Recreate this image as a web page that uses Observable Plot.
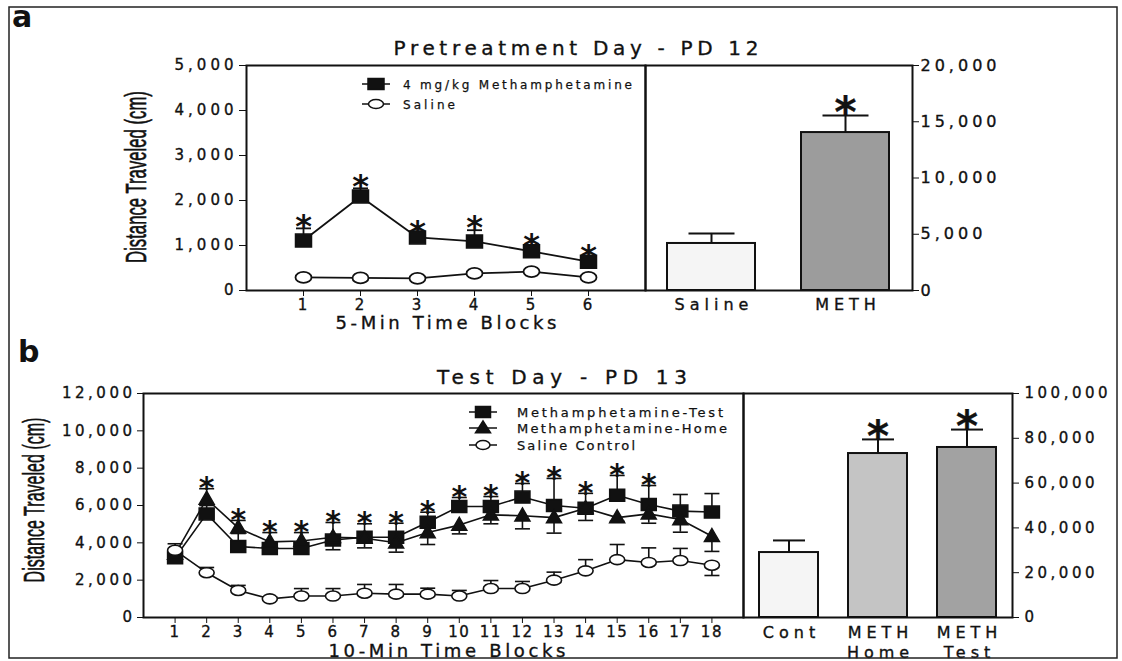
<!DOCTYPE html>
<html>
<head>
<meta charset="utf-8">
<script src="https://cdn.jsdelivr.net/npm/d3@7"></script>
<script src="https://cdn.jsdelivr.net/npm/@observablehq/plot@0.6"></script>
<style>
  body { margin: 0; background: #fff; }
  #fig { position: relative; width: 1122px; height: 661px; overflow: hidden; background: #fff; }
  #fig > div.p { position: absolute; }
  #fig svg { overflow: visible; }
  #fig text { font-family: "DejaVu Sans", sans-serif; }
  #fig g[aria-label^="y-axis"] text, #fig g[aria-label^="x-axis"] text { stroke: #111; stroke-width: 0.35px; }
  #aline g[aria-label^="y-axis"] text, #abar g[aria-label^="y-axis"] text { letter-spacing: 4px; }
  #bline g[aria-label^="y-axis"] text, #bbar g[aria-label^="y-axis"] text { letter-spacing: 3.5px; }
  #aline g[aria-label^="x-axis"] text { letter-spacing: 2px; }
  #bline g[aria-label^="x-axis"] text { letter-spacing: 1.5px; }
  #abar g[aria-label="text"] text, #bbar g[aria-label="text"] text { letter-spacing: 5px; stroke: #111; stroke-width: 0.35px; }
  #overlay { position: absolute; left: 0; top: 0; pointer-events: none; }
</style>
</head>
<body>
<div id="fig"></div>
<script>
// ---------------- DATA ----------------
// Panel a: Pretreatment Day - PD 12 (5-min blocks)
const blocksA = [1, 2, 3, 4, 5, 6];
const methA = [1110, 2090, 1180, 1090, 870, 640];
const methAErrTop = [1380, 2270, 1250, 1340, 950, 700];
const salineA = [290, 280, 270, 380, 420, 290];
const salineAErrTop = [330, 320, 310, 420, 460, 330];
const sigA = [true, true, true, true, true, true];
const yTicksA = [0, 1000, 2000, 3000, 4000, 5000];

const barCatsA = ["Saline", "METH"];
const barValsA = [4180, 14040];
const barErrTopA = [5070, 15560];
const barSigA = [false, true];
const yTicksBarA = [0, 5000, 10000, 15000, 20000];

// Panel b: Test Day - PD 13 (10-min blocks)
const blocksB = [1, 2, 3, 4, 5, 6, 7, 8, 9, 10, 11, 12, 13, 14, 15, 16, 17, 18];
const testB = [3200, 5550, 3800, 3700, 3700, 4150, 4300, 4300, 5100, 5950, 5950, 6450, 6000, 5850, 6550, 6050, 5700, 5650];
const testBErrTop = [3500, 6900, 5200, 4550, 4550, 5090, 5020, 5050, 5640, 6430, 6480, 7180, 7450, 6650, 7610, 7070, 6590, 6640];
const homeB = [3400, 6350, 4800, 4050, 4100, 4300, 4250, 4000, 4550, 4950, 5500, 5450, 5350, 5850, 5350, 5550, 5250, 4350];
const homeBErrBottom = [3100, 6000, 4500, 3700, 3750, 3630, 3730, 3500, 3910, 4480, 5020, 4750, 4520, 5200, 5150, 5050, 4570, 3540];
const salineB = [3600, 2400, 1450, 1000, 1150, 1150, 1300, 1250, 1250, 1150, 1550, 1550, 2000, 2500, 3100, 2950, 3050, 2800];
const salineBErrEnd = [3950, 2680, 1720, 1100, 1550, 1550, 1770, 1770, 1570, 1450, 1980, 1930, 2430, 3100, 3910, 3730, 3700, 2250];
const sigB = [false, true, true, true, true, true, true, true, true, true, true, true, true, true, true, true, false, false];
const yTicksB = [0, 2000, 4000, 6000, 8000, 10000, 12000];

const barCatsB = ["Cont", "METH Home", "METH Test"];
const barLabelsB = ["Cont", "METH\nHome", "METH\nTest"];
const barValsB = [29000, 73200, 75900];
const barErrTopB = [34400, 79500, 83900];
const barSigB = [false, true, true];
const yTicksBarB = [0, 20000, 40000, 60000, 80000, 100000];

const fills = {"Saline": "#f5f5f5", "METH": "#9c9c9c", "Cont": "#f5f5f5", "METH Home": "#c4c4c4", "METH Test": "#a2a2a2"};

// ---------------- TABLES ----------------
const dataA = blocksA.map((b, i) => ({block: b, meth: methA[i], methTop: methAErrTop[i], sal: salineA[i], salTop: salineAErrTop[i], sig: sigA[i]}));
const barsA = barCatsA.map((c, i) => ({cat: c, label: c, v: barValsA[i], top: barErrTopA[i], sig: barSigA[i]}));
const dataB = blocksB.map((b, i) => ({block: b, test: testB[i], testTop: testBErrTop[i], home: homeB[i], homeBot: homeBErrBottom[i], sal: salineB[i], salEnd: salineBErrEnd[i], sig: sigB[i]}));
const barsB = barCatsB.map((c, i) => ({cat: c, label: barLabelsB[i], v: barValsB[i], top: barErrTopB[i], sig: barSigB[i]}));

// ---------------- SYMBOLS ----------------
const rectSym = (w, h) => ({draw(ctx) { ctx.moveTo(-w/2, -h/2); ctx.lineTo(w/2, -h/2); ctx.lineTo(w/2, h/2); ctx.lineTo(-w/2, h/2); ctx.closePath(); }});
const triSym = (w, h) => ({draw(ctx) { ctx.moveTo(0, -h*0.6); ctx.lineTo(w/2, h*0.4); ctx.lineTo(-w/2, h*0.4); ctx.closePath(); }});
const ellSym = (rx, ry) => ({draw(ctx) { const k = 0.5523;
  ctx.moveTo(rx, 0);
  ctx.bezierCurveTo(rx, ry*k, rx*k, ry, 0, ry);
  ctx.bezierCurveTo(-rx*k, ry, -rx, ry*k, -rx, 0);
  ctx.bezierCurveTo(-rx, -ry*k, -rx*k, -ry, 0, -ry);
  ctx.bezierCurveTo(rx*k, -ry, rx, -ry*k, rx, 0);
  ctx.closePath(); }});
const capSym = (w) => ({draw(ctx) { ctx.moveTo(-w/2, 0); ctx.lineTo(w/2, 0); }});

const INK = "#111";
const baseStyle = (fs) => ({fontFamily: "DejaVu Sans, sans-serif", fontSize: fs + "px", color: INK, background: "transparent", overflow: "visible"});
const fmt = d3.format(",");

const fig = document.getElementById("fig");
function place(id, left, top, node) {
  const d = document.createElement("div");
  d.className = "p"; d.id = id; d.style.left = left + "px"; d.style.top = top + "px";
  d.appendChild(node); fig.appendChild(d);
}

// ---------------- PANEL a : line ----------------
const aLine = Plot.plot({
  width: 645, height: 330, marginLeft: 246, marginRight: 0, marginTop: 65, marginBottom: 40,
  style: baseStyle(15),
  x: {domain: [0, 7], ticks: blocksA, tickFormat: d => String(d), label: null, tickSize: 6, tickPadding: 3},
  y: {domain: [0, 5000], ticks: yTicksA, tickFormat: fmt, label: null, tickSize: 7, tickPadding: 2},
  marks: [
    Plot.line(dataA, {x: "block", y: "sal", stroke: INK, strokeWidth: 1.8}),
    Plot.line(dataA, {x: "block", y: "meth", stroke: INK, strokeWidth: 1.8}),
    Plot.ruleX(dataA, {x: "block", y1: "meth", y2: "methTop", stroke: INK, strokeWidth: 1.8}),
    Plot.dot(dataA, {x: "block", y: "methTop", symbol: capSym(15), r: 5, fill: "none", stroke: INK, strokeWidth: 1.8}),
    Plot.ruleX(dataA, {x: "block", y1: "sal", y2: "salTop", stroke: INK, strokeWidth: 1.8}),
    Plot.dot(dataA, {x: "block", y: "meth", symbol: rectSym(16, 13), r: 5, fill: INK, stroke: INK}),
    Plot.dot(dataA, {x: "block", y: "sal", symbol: ellSym(8, 5.5), r: 5, fill: "#fff", stroke: INK, strokeWidth: 1.8}),
    Plot.text(dataA.filter(d => d.sig), {x: "block", y: "methTop", text: d => "*", fontSize: 32, fontWeight: "bold", dy: -2, fill: INK}),
    Plot.frame({stroke: INK, strokeWidth: 2})
  ]
});
place("aline", 0, 0, aLine);

// ---------------- PANEL a : bars ----------------
const aBar = Plot.plot({
  width: 477, height: 330, marginLeft: 0, marginRight: 210, marginTop: 65, marginBottom: 40,
  style: baseStyle(16),
  x: {type: "band", domain: barCatsA, paddingInner: 0.34, paddingOuter: 0.165, axis: null},
  y: {domain: [0, 20000], ticks: yTicksBarA, tickFormat: fmt, label: null, axis: "right", tickSize: 6, tickPadding: 2},
  marks: [
    Plot.ruleX(barsA, {x: "cat", y1: "v", y2: "top", stroke: INK, strokeWidth: 2}),
    Plot.dot(barsA, {x: "cat", y: "top", symbol: capSym(46), r: 5, fill: "none", stroke: INK, strokeWidth: 2}),
    Plot.barY(barsA, {x: "cat", y: "v", fill: d => fills[d.cat], stroke: INK, strokeWidth: 2}),
    Plot.text(barsA.filter(d => d.sig), {x: "cat", y: "top", text: d => "*", fontSize: 42, fontWeight: "bold", dy: -2, dx: 2.5, fill: INK}),
    Plot.text(barsA, {x: "cat", text: "label", frameAnchor: "bottom", lineAnchor: "top", dy: 8, dx: 2.5, fontSize: 16, fill: INK}),
    Plot.frame({stroke: INK, strokeWidth: 2})
  ]
});
place("abar", 645, 0, aBar);

// ---------------- PANEL b : line ----------------
const bLine = Plot.plot({
  width: 743, height: 321, marginLeft: 143, marginRight: 0, marginTop: 53, marginBottom: 44,
  style: baseStyle(15),
  x: {domain: [0, 19], ticks: blocksB, tickFormat: d => String(d), label: null, tickSize: 6, tickPadding: 3},
  y: {domain: [0, 12000], ticks: yTicksB, tickFormat: fmt, label: null, tickSize: 6, tickPadding: 2},
  marks: [
    Plot.line(dataB, {x: "block", y: "sal", stroke: INK, strokeWidth: 1.6}),
    Plot.line(dataB, {x: "block", y: "home", stroke: INK, strokeWidth: 1.6}),
    Plot.line(dataB, {x: "block", y: "test", stroke: INK, strokeWidth: 1.6}),
    Plot.ruleX(dataB, {x: "block", y1: "test", y2: "testTop", stroke: INK, strokeWidth: 1.6}),
    Plot.dot(dataB, {x: "block", y: "testTop", symbol: capSym(15), r: 5, fill: "none", stroke: INK, strokeWidth: 1.6}),
    Plot.ruleX(dataB, {x: "block", y1: "home", y2: "homeBot", stroke: INK, strokeWidth: 1.6}),
    Plot.dot(dataB, {x: "block", y: "homeBot", symbol: capSym(15), r: 5, fill: "none", stroke: INK, strokeWidth: 1.6}),
    Plot.ruleX(dataB, {x: "block", y1: "sal", y2: "salEnd", stroke: INK, strokeWidth: 1.6}),
    Plot.dot(dataB, {x: "block", y: "salEnd", symbol: capSym(15), r: 5, fill: "none", stroke: INK, strokeWidth: 1.6}),
    Plot.dot(dataB, {x: "block", y: "test", symbol: rectSym(15, 12), r: 5, fill: INK, stroke: INK}),
    Plot.dot(dataB, {x: "block", y: "home", symbol: triSym(15, 13), r: 5, fill: INK, stroke: INK}),
    Plot.dot(dataB, {x: "block", y: "sal", symbol: ellSym(7.5, 5), r: 5, fill: "#fff", stroke: INK, strokeWidth: 1.6}),
    Plot.text(dataB.filter(d => d.sig), {x: "block", y: d => Math.max(d.testTop, d.home), text: d => "*", fontSize: 30, fontWeight: "bold", dy: 0, fill: INK}),
    Plot.frame({stroke: INK, strokeWidth: 2})
  ]
});
place("bline", 0, 340, bLine);

// ---------------- PANEL b : bars ----------------
const bBar = Plot.plot({
  width: 379, height: 321, marginLeft: 0, marginRight: 110, marginTop: 53, marginBottom: 44,
  style: baseStyle(15),
  x: {type: "band", domain: barCatsB, paddingInner: 0.333, paddingOuter: 0.17, axis: null},
  y: {domain: [0, 100000], ticks: yTicksBarB, tickFormat: fmt, label: null, axis: "right", tickSize: 6, tickPadding: 6},
  marks: [
    Plot.ruleX(barsB, {x: "cat", y1: "v", y2: "top", stroke: INK, strokeWidth: 2}),
    Plot.dot(barsB, {x: "cat", y: "top", symbol: capSym(32), r: 5, fill: "none", stroke: INK, strokeWidth: 2}),
    Plot.barY(barsB, {x: "cat", y: "v", fill: d => fills[d.cat], stroke: INK, strokeWidth: 2}),
    Plot.text(barsB.filter(d => d.sig), {x: "cat", y: "top", text: d => "*", fontSize: 42, fontWeight: "bold", dy: -2, dx: 2.5, fill: INK}),
    Plot.text(barsB, {x: "cat", text: "label", frameAnchor: "bottom", lineAnchor: "top", dy: 7, dx: 2.5, fontSize: 16, lineHeight: 1.22, fill: INK}),
    Plot.frame({stroke: INK, strokeWidth: 2})
  ]
});
place("bbar", 743, 340, bBar);

// ---------------- OVERLAY: labels, titles, legends, border ----------------
const svg = d3.select(fig).append("svg").attr("id", "overlay").attr("width", 1122).attr("height", 661);
svg.append("rect").attr("x", 9).attr("y", 7).attr("width", 1108).attr("height", 651)
  .attr("fill", "none").attr("stroke", "#222").attr("stroke-width", 1.5);

function txt(s, x, y, o = {}) {
  const t = svg.append("text").attr("x", x).attr("y", y).text(s)
    .attr("font-size", o.size || 16).attr("fill", INK)
    .attr("text-anchor", o.anchor || "start");
  if (o.weight) t.attr("font-weight", o.weight);
  if (o.len) t.attr("textLength", o.len).attr("lengthAdjust", o.adjust || "spacing");
  if (o.family) t.style("font-family", o.family);
  if (o.sw) t.attr("stroke", INK).attr("stroke-width", o.sw);
  return t;
}

// condensed, rotated y-axis title: scaled to the measured length
function yTitle(s, bx, cy, len, size) {
  const t = svg.append("text").text(s).attr("x", 0).attr("y", 0)
    .attr("font-size", size).attr("fill", INK).attr("stroke", INK).attr("stroke-width", 0.6)
    .attr("text-anchor", "middle")
    .style("font-family", "Liberation Sans Narrow, Liberation Sans, sans-serif");
  const w = t.node().getComputedTextLength() || len;
  t.attr("transform", `translate(${bx},${cy}) rotate(-90) scale(${len / w},1)`);
}

// panel letters
txt("a", 12, 27, {size: 30, weight: "bold"});
txt("b", 18, 362, {size: 30, weight: "bold"});

// titles
txt("Pretreatment Day - PD 12", 576, 55, {size: 20, anchor: "middle", len: 365, sw: 0.35});
txt("Test Day - PD 13", 562, 384, {size: 20, anchor: "middle", len: 250, sw: 0.35});

// x-axis titles
txt("5-Min Time Blocks", 446, 329, {size: 18, anchor: "middle", len: 221, sw: 0.35});
txt("10-Min Time Blocks", 447, 657, {size: 18, anchor: "middle", len: 237, sw: 0.35});

// y-axis titles
yTitle("Distance Traveled (cm)", 146, 177, 172, 30);
yTitle("Distance Traveled (cm)", 44, 500, 165, 30);

// legends
function legendItem(cx, cy, sym, fill, label, tx, len, size) {
  svg.append("line").attr("x1", cx - 14).attr("x2", cx + 14).attr("y1", cy).attr("y2", cy)
    .attr("stroke", INK).attr("stroke-width", 1.5);
  svg.append("path").attr("d", d3.symbol().type(sym)()).attr("transform", `translate(${cx},${cy})`)
    .attr("fill", fill).attr("stroke", INK).attr("stroke-width", 1.5);
  txt(label, tx, cy + 4.5, {size: size, len: len, sw: 0.25});
}
legendItem(376, 84, rectSym(16, 11), INK, "4 mg/kg Methamphetamine", 403, 229, 12);
legendItem(376, 104, ellSym(7.5, 4.5), "#fff", "Saline", 403, 52, 12);

legendItem(483, 412, rectSym(15, 11), INK, "Methamphetamine-Test", 517, 206, 13);
legendItem(483, 428, triSym(15, 12), INK, "Methamphetamine-Home", 517, 210, 13);
legendItem(483, 445, ellSym(7, 4.5), "#fff", "Saline Control", 517, 118, 13);
</script>
</body>
</html>
